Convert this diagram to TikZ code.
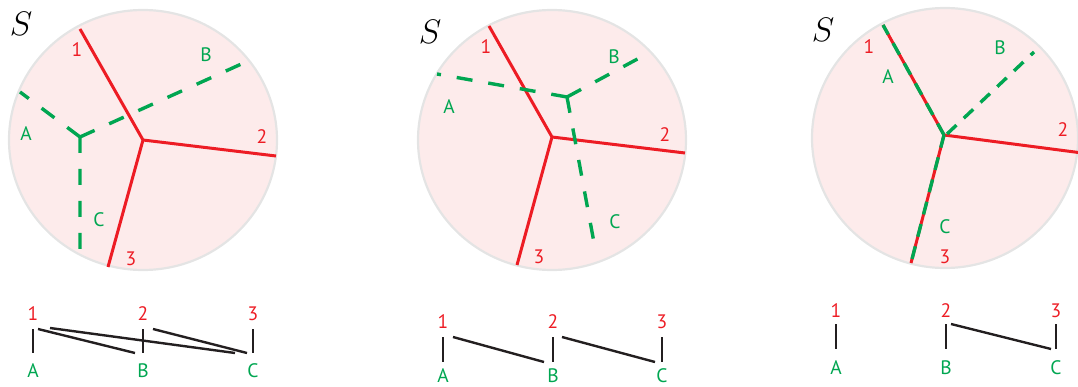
\RequirePackage{fix-cm}
\documentclass[tikz,border=0pt]{standalone}
\usepackage{fontspec}
\newfontfamily\lblfont{PT Sans}
\definecolor{cutred}{HTML}{ED1C24}
\definecolor{dualgreen}{HTML}{00A651}
\definecolor{disc}{HTML}{FDEBEB}
\definecolor{rim}{HTML}{E4E4E4}
\definecolor{ink}{HTML}{231F20}

\begin{document}
\begin{tikzpicture}[x=1pt,y=-1pt,
    every node/.style={font=\lblfont\fontsize{19.5}{21}\selectfont,inner sep=0pt},
    surf/.style={fill=disc,draw=rim,line width=2.2pt},
    cut/.style={cutred,line width=3pt,line join=miter},
    dual/.style={dualgreen,line width=3.4pt,dash pattern=on 16pt off 16pt},
    rl/.style={text=cutred},
    gl/.style={text=dualgreen},
    sname/.style={font=\fontsize{34}{36}\selectfont},
    bar/.style={ink,line width=2.4pt}]

  \useasboundingbox (0,0) rectangle (1078,387);

  % Left surface: cuts and dual graph apart.
  \draw[surf] (143,140) ellipse [x radius=134pt, y radius=130pt];
  \node[sname] (s1) at (21,24) {$S$};
  \path (143,140) coordinate (j1) (80,29) coordinate (j1a)
        (276,156) coordinate (j1b) (108,267) coordinate (j1c);
  \path (80,137) coordinate (g1) (20,92) coordinate (g1a)
        (248,61) coordinate (g1b) (80,257) coordinate (g1c);
  \draw[cut] (j1a) -- (j1) -- (j1c) (j1) -- (j1b);
  \draw[dual] (g1) -- (g1a) (g1) -- (g1b) (g1) -- (g1c);
  \node[rl] (c11) at (77,50) {1};
  \node[rl] (c12) at (262,137) {2};
  \node[rl] (c13) at (131,259) {3};
  \node[gl] (d1A) at (26,134) {A};
  \node[gl] (d1B) at (206,55) {B};
  \node[gl] (d1C) at (99,220) {C};

  % Middle surface.
  \draw[surf] (552,140) ellipse [x radius=134pt, y radius=130pt];
  \node[sname] (s2) at (430,32) {$S$};
  \path (552,137) coordinate (j2) (489,26) coordinate (j2a)
        (685,153) coordinate (j2b) (517,265) coordinate (j2c);
  \path (567,97) coordinate (g2) (437,74) coordinate (g2a)
        (643,56) coordinate (g2b) (595,248) coordinate (g2c);
  \draw[cut] (j2a) -- (j2) -- (j2c) (j2) -- (j2b);
  \draw[dual] (g2) -- (g2a) (g2) -- (g2b) (g2) -- (g2c);
  \node[rl] (c21) at (486,47) {1};
  \node[rl] (c22) at (665,135) {2};
  \node[rl] (c23) at (539,257) {3};
  \node[gl] (d2A) at (449,107) {A};
  \node[gl] (d2B) at (614,57) {B};
  \node[gl] (d2C) at (615,222) {C};

  % Right surface, A and C run along cuts 1 and 3.
  \begin{scope}
    \clip (790,0) rectangle (1078,290);
    \draw[surf] (945,138) ellipse [x radius=133pt, y radius=130pt];
    \path (944,135) coordinate (j3) (883,25) coordinate (j3a)
          (1090,154) coordinate (j3b) (911,263) coordinate (j3c);
    \path (947,134) coordinate (g3) (1034,52) coordinate (g3b);
    \draw[cut] (j3a) -- (j3) -- (j3c) (j3) -- (j3b);
    \draw[dual,dash pattern=on 13pt off 10pt]
      (j3) -- (j3a) (j3) -- (j3c) (g3) -- (g3b);
  \end{scope}
  \node[sname] (s3) at (823,30) {$S$};
  \node[rl] (c31) at (869,47) {1};
  \node[rl] (c32) at (1063,130) {2};
  \node[rl] (c33) at (945,257) {3};
  \node[gl] (d3A) at (888,77) {A};
  \node[gl] (d3B) at (1000,48) {B};
  \node[gl] (d3C) at (945,227) {C};

  % Matchings underneath.
  \foreach \x/\p/\q in {33/1/A,143/2/B,253/3/C} {
    \node[rl] (pn\p) at (\x,314) {\p};
    \node[gl] (pl\q) at (\x,371) {\q};
    \draw[bar] (\x,329) coordinate (pt\p) -- (\x,353) coordinate (pb\q);
  }
  \draw[bar] ([xshift=5pt]pt1) -- ([xshift=-8pt]pbB);
  \draw[bar] ([xshift=17pt,yshift=1pt]pt1) -- ([xshift=-18pt]pbC);
  \draw[bar] ([xshift=10pt]pt2) -- ([xshift=-6pt]pbC);

  \foreach \x/\p/\q in {443/1/A,553/2/B,662/3/C} {
    \node[rl] (qn\p) at (\x,322) {\p};
    \node[gl] (ql\q) at (\x,376) {\q};
    \draw[bar] (\x,337) coordinate (qt\p) -- (\x,362) coordinate (qb\q);
  }
  \draw[bar] ([xshift=10pt]qt1) -- ([xshift=-9pt]qbB);
  \draw[bar] ([xshift=9pt]qt2) -- ([xshift=-7pt]qbC);

  \foreach \x/\p/\q in {836/1/A,946/2/B,1056/3/C} {
    \node[rl] (rn\p) at (\x,311) {\p};
    \node[gl] (rl\q) at (\x,368) {\q};
    \draw[bar] (\x,324) coordinate (rt\p) -- (\x,349) coordinate (rb\q);
  }
  \draw[bar] ([xshift=5pt]rt2) -- ([xshift=-5pt]rbC);
\end{tikzpicture}
\end{document}
